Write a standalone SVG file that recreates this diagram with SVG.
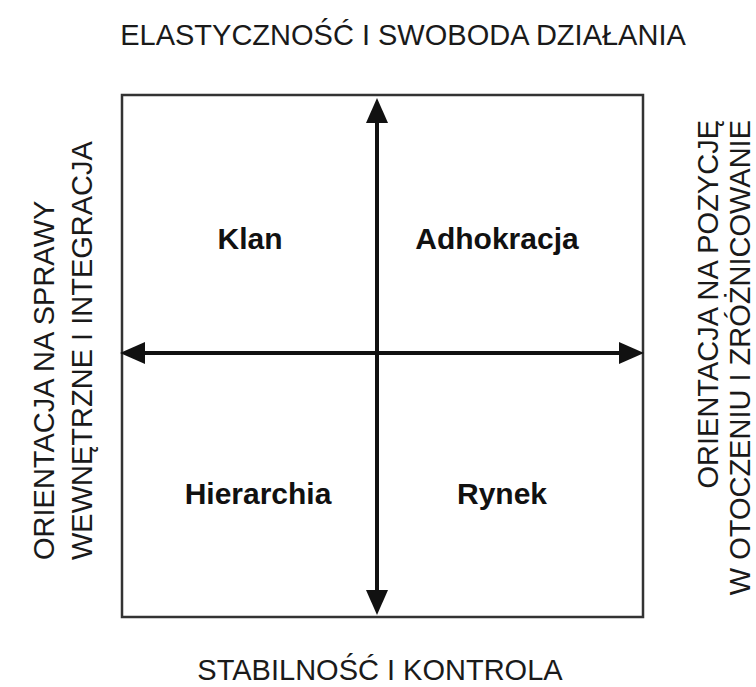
<svg xmlns="http://www.w3.org/2000/svg" width="756" height="687" viewBox="0 0 756 687">
<style>
.axis{font-family:"Liberation Sans",Arial,sans-serif;font-size:29px;fill:#1a1a1a}
.quad{font-family:"Liberation Sans",Arial,sans-serif;font-size:30px;font-weight:bold;fill:#111;text-anchor:middle}
.arrow{stroke:#111;stroke-width:4;fill:none;marker-start:url(#head);marker-end:url(#head)}
</style>
<defs>
<marker id="head" markerUnits="userSpaceOnUse" markerWidth="25" markerHeight="22" refX="0" refY="11" orient="auto-start-reverse" viewBox="0 0 25 22">
<path d="M0,0 L25,11 L0,22 z" fill="#111"/>
</marker>
</defs>
<rect width="756" height="687" fill="#fff"/>
<g id="frame">
<rect x="122" y="95" width="521" height="522" fill="none" stroke="#333" stroke-width="2.5"/>
</g>
<g id="connectors">
<line class="arrow" x1="377" y1="123" x2="377" y2="590"/>
<line class="arrow" x1="145" y1="353" x2="619" y2="353"/>
</g>
<g id="top-label"><text class="axis" x="403" y="45" text-anchor="middle">ELASTYCZNOŚĆ I SWOBODA DZIAŁANIA</text></g>
<g id="bottom-label"><text class="axis" x="380" y="680" text-anchor="middle">STABILNOŚĆ I KONTROLA</text></g>
<g id="left-label">
<text class="axis" transform="translate(54,560) rotate(-90)" x="0" y="0">ORIENTACJA NA SPRAWY</text>
<text class="axis" transform="translate(92,560) rotate(-90)" x="0" y="0">WEWNĘTRZNE I INTEGRACJA</text>
</g>
<g id="right-label">
<text class="axis" transform="translate(718,120) rotate(-90)" x="0" y="0" text-anchor="end">ORIENTACJA NA POZYCJĘ</text>
<text class="axis" transform="translate(750,120) rotate(-90)" x="0" y="0" text-anchor="end">W OTOCZENIU I ZRÓŻNICOWANIE</text>
</g>
<g id="klan"><text class="quad" x="250" y="249">Klan</text></g>
<g id="adhokracja"><text class="quad" x="497" y="249">Adhokracja</text></g>
<g id="hierarchia"><text class="quad" x="258" y="504">Hierarchia</text></g>
<g id="rynek"><text class="quad" x="502" y="504">Rynek</text></g>
</svg>
